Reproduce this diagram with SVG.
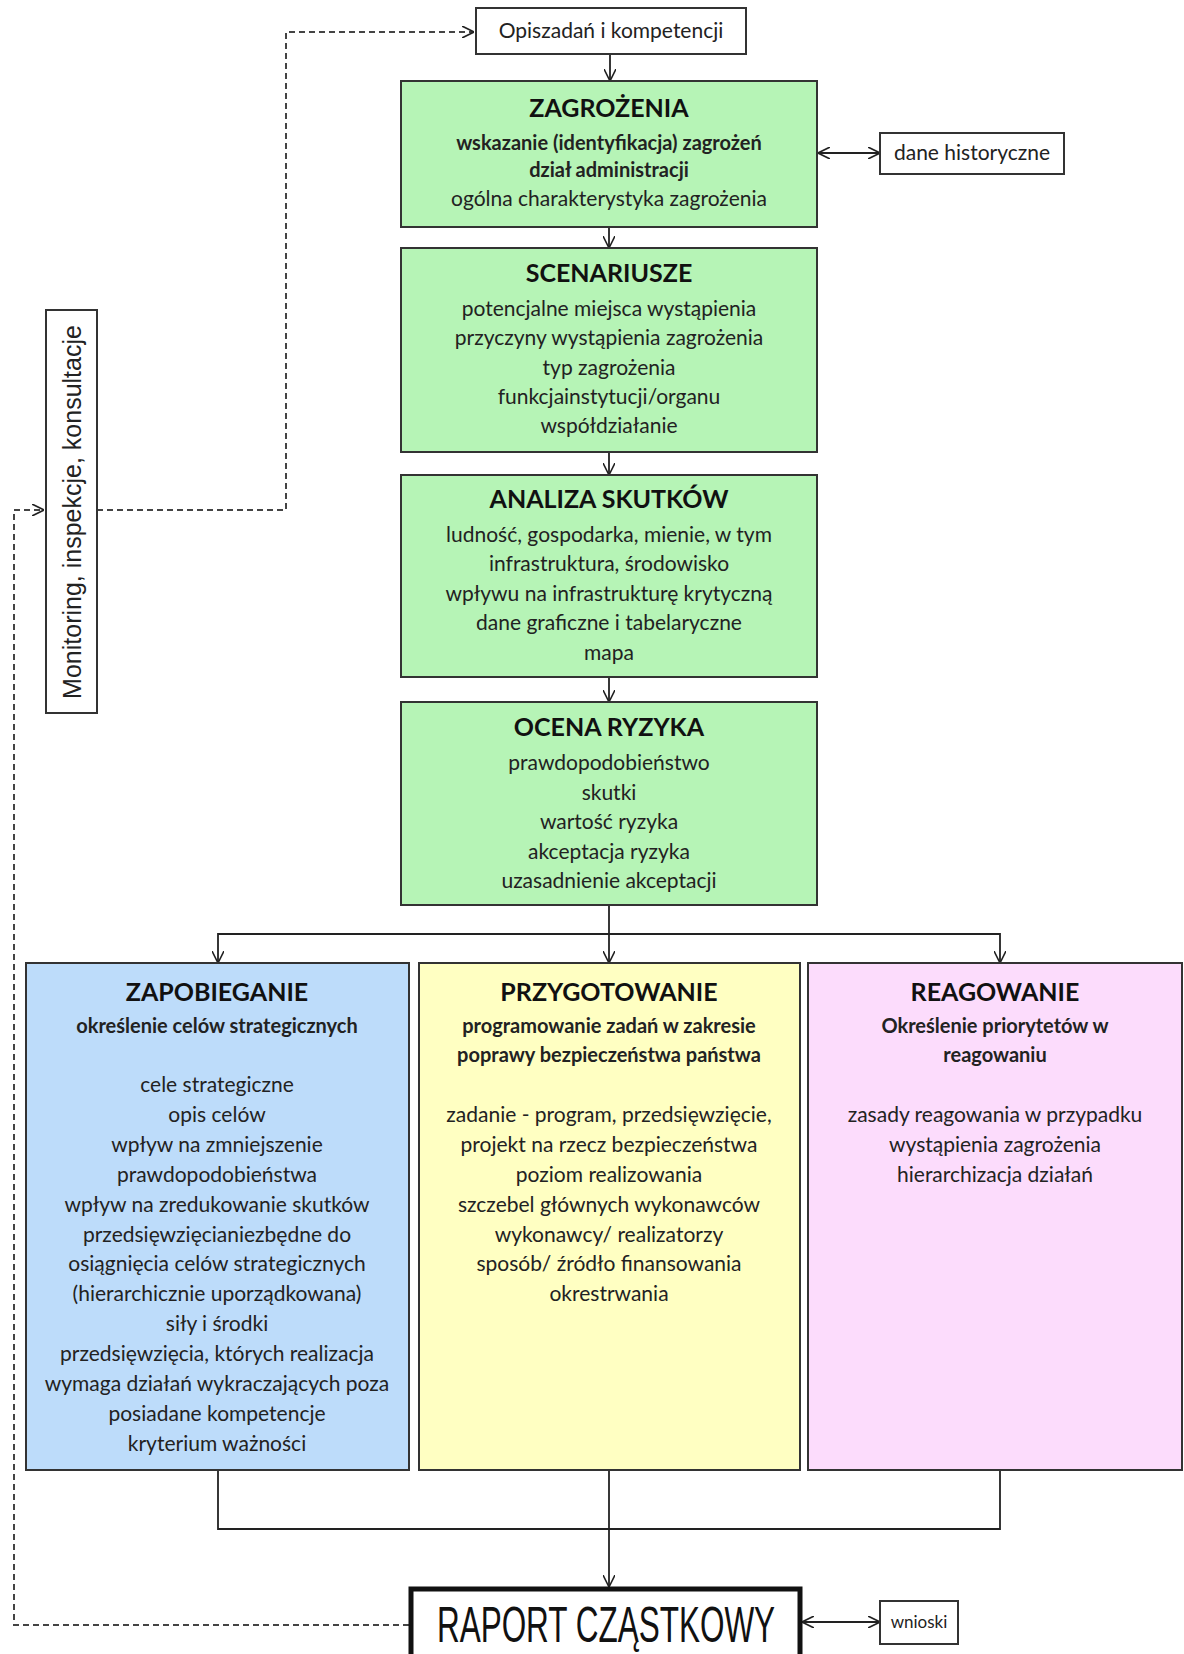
<svg xmlns="http://www.w3.org/2000/svg" width="1184" height="1654" viewBox="0 0 1184 1654">
<style>
.bx{stroke:#333;stroke-width:2}
.g{fill:#b6f4b6}
.b{fill:#bddcfa}
.y{fill:#ffffc2}
.p{fill:#fcdcfc}
.w{fill:#fff}
.t{font-family:Lato,"Liberation Sans",sans-serif;font-size:21px;fill:#222;text-anchor:middle}
.h{font-weight:bold;font-size:25px;fill:#111}
.s{font-weight:bold;font-size:20px}
.c{stroke:#222;stroke-width:1.8;fill:none}
.d{stroke:#444;stroke-width:2;stroke-dasharray:6 4;fill:none}
</style>
<defs>
<marker id="a" viewBox="0 0 12 12" markerWidth="12" markerHeight="12" markerUnits="userSpaceOnUse" refX="12" refY="6" orient="auto-start-reverse">
<path d="M0,0 L12,6 L0,12" fill="none" stroke="#222" stroke-width="1.6"/>
</marker>
</defs>
<rect width="1184" height="1654" fill="#fff"/>

<g id="connectors">
<path class="c" d="M610,54 L610,81" marker-end="url(#a)"/>
<path class="c" d="M818,153 L880,153" marker-start="url(#a)" marker-end="url(#a)"/>
<path class="c" d="M609,227 L609,248" marker-end="url(#a)"/>
<path class="c" d="M609,452 L609,475" marker-end="url(#a)"/>
<path class="c" d="M609,677 L609,702" marker-end="url(#a)"/>
<path class="c" d="M609,905 L609,963" marker-end="url(#a)"/>
<path class="c" d="M218,963 L218,934 L1000,934 L1000,963" marker-start="url(#a)" marker-end="url(#a)"/>
<path class="c" d="M218,1470 L218,1529 L1000,1529 L1000,1470"/>
<path class="c" d="M609,1470 L609,1587" marker-end="url(#a)"/>
<path class="c" d="M802,1622 L880,1622" marker-start="url(#a)" marker-end="url(#a)"/>
<path class="d" d="M97,510 L286,510 L286,32 L474,32" marker-end="url(#a)"/>
<path class="d" d="M409,1625 L14,1625 L14,510 L44,510" marker-end="url(#a)"/>
</g>

<g id="opis">
<rect class="bx w" x="476" y="8" width="270" height="46"/>
<text class="t" x="611" y="38">Opiszadań i kompetencji</text>
</g>

<g id="dane">
<rect class="bx w" x="880" y="133" width="184" height="41"/>
<text class="t" x="972" y="160">dane historyczne</text>
</g>

<g id="zagrozenia">
<rect class="bx g" x="401" y="81" width="416" height="146"/>
<text class="t h" x="609" y="117">ZAGROŻENIA</text>
<text class="t s" x="609" y="150">wskazanie (identyfikacja)  zagrożeń</text>
<text class="t s" x="609" y="177">dział administracji</text>
<text class="t" x="609" y="206">ogólna charakterystyka zagrożenia</text>
</g>

<g id="scenariusze">
<rect class="bx g" x="401" y="248" width="416" height="204"/>
<text class="t h" x="609" y="282">SCENARIUSZE</text>
<text class="t" x="609" y="316">potencjalne miejsca wystąpienia</text>
<text class="t" x="609" y="345">przyczyny wystąpienia zagrożenia</text>
<text class="t" x="609" y="375">typ zagrożenia</text>
<text class="t" x="609" y="404">funkcjainstytucji/organu</text>
<text class="t" x="609" y="433">współdziałanie</text>
</g>

<g id="analiza">
<rect class="bx g" x="401" y="475" width="416" height="202"/>
<text class="t h" x="609" y="508">ANALIZA SKUTKÓW</text>
<text class="t" x="609" y="542">ludność, gospodarka, mienie, w tym</text>
<text class="t" x="609" y="571">infrastruktura, środowisko</text>
<text class="t" x="609" y="601">wpływu na infrastrukturę krytyczną</text>
<text class="t" x="609" y="630">dane graficzne i tabelaryczne</text>
<text class="t" x="609" y="660">mapa</text>
</g>

<g id="ocena">
<rect class="bx g" x="401" y="702" width="416" height="203"/>
<text class="t h" x="609" y="736">OCENA RYZYKA</text>
<text class="t" x="609" y="770">prawdopodobieństwo</text>
<text class="t" x="609" y="800">skutki</text>
<text class="t" x="609" y="829">wartość ryzyka</text>
<text class="t" x="609" y="859">akceptacja ryzyka</text>
<text class="t" x="609" y="888">uzasadnienie akceptacji</text>
</g>

<g id="zapobieganie">
<rect class="bx b" x="26" y="963" width="383" height="507"/>
<text class="t h" x="217" y="1001">ZAPOBIEGANIE</text>
<text class="t s" x="217" y="1033">określenie celów  strategicznych</text>
<text class="t" x="217" y="1092">cele strategiczne</text>
<text class="t" x="217" y="1122">opis celów</text>
<text class="t" x="217" y="1152">wpływ na zmniejszenie</text>
<text class="t" x="217" y="1182">prawdopodobieństwa</text>
<text class="t" x="217" y="1212">wpływ na zredukowanie skutków</text>
<text class="t" x="217" y="1242">przedsięwzięcianiezbędne do</text>
<text class="t" x="217" y="1271">osiągnięcia celów strategicznych</text>
<text class="t" x="217" y="1301">(hierarchicznie uporządkowana)</text>
<text class="t" x="217" y="1331">siły i środki</text>
<text class="t" x="217" y="1361">przedsięwzięcia, których realizacja</text>
<text class="t" x="217" y="1391">wymaga działań  wykraczających  poza</text>
<text class="t" x="217" y="1421">posiadane kompetencje</text>
<text class="t" x="217" y="1451">kryterium ważności</text>
</g>

<g id="przygotowanie">
<rect class="bx y" x="419" y="963" width="381" height="507"/>
<text class="t h" x="609" y="1001">PRZYGOTOWANIE</text>
<text class="t s" x="609" y="1033">programowanie zadań  w zakresie</text>
<text class="t s" x="609" y="1062">poprawy bezpieczeństwa państwa</text>
<text class="t" x="609" y="1122">zadanie - program, przedsięwzięcie,</text>
<text class="t" x="609" y="1152">projekt na rzecz bezpieczeństwa</text>
<text class="t" x="609" y="1182">poziom realizowania</text>
<text class="t" x="609" y="1212">szczebel głównych  wykonawców</text>
<text class="t" x="609" y="1242">wykonawcy/ realizatorzy</text>
<text class="t" x="609" y="1271">sposób/ źródło finansowania</text>
<text class="t" x="609" y="1301">okrestrwania</text>
</g>

<g id="reagowanie">
<rect class="bx p" x="808" y="963" width="374" height="507"/>
<text class="t h" x="995" y="1001">REAGOWANIE</text>
<text class="t s" x="995" y="1033">Określenie priorytetów w</text>
<text class="t s" x="995" y="1062">reagowaniu</text>
<text class="t" x="995" y="1122">zasady reagowania w przypadku</text>
<text class="t" x="995" y="1152">wystąpienia zagrożenia</text>
<text class="t" x="995" y="1182">hierarchizacja działań</text>
</g>

<g id="monitoring">
<rect class="bx w" x="46" y="310" width="51" height="403"/>
<text transform="translate(72,512) rotate(-90)" x="0" y="9" font-family="'Liberation Sans',Arial,sans-serif" font-size="25" fill="#222" text-anchor="middle">Monitoring, inspekcje, konsultacje</text>
</g>

<g id="raport">
<rect x="411" y="1589" width="389" height="80" fill="#fff" stroke="#111" stroke-width="5"/>
<text transform="translate(606,1642) scale(0.63,1)" x="0" y="0" font-family="'Liberation Sans',Arial,sans-serif" font-size="50" fill="#111" text-anchor="middle">RAPORT CZĄSTKOWY</text>
</g>

<g id="wnioski">
<rect class="bx w" x="880" y="1601" width="78" height="43"/>
<text class="t" x="919" y="1628" style="font-size:17px">wnioski</text>
</g>
</svg>
